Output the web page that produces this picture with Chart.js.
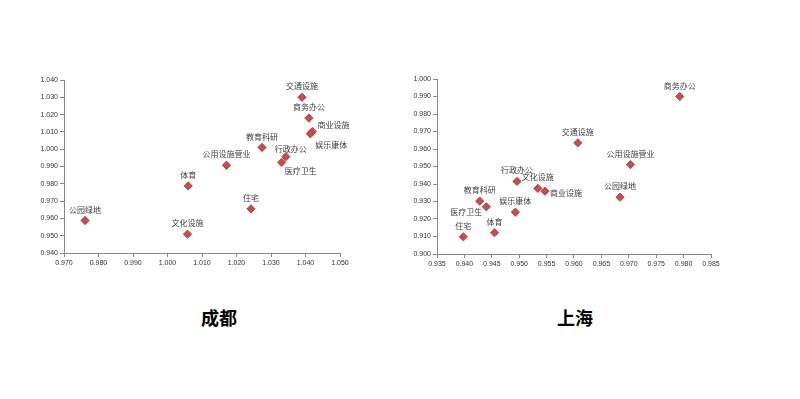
<!DOCTYPE html>
<html>
<head>
<meta charset="utf-8">
<script src="https://cdn.jsdelivr.net/npm/chart.js@4/dist/chart.umd.min.js"></script>
<style>
  html, body { margin: 0; padding: 0; background: #fff; }
  body { width: 800px; height: 399px; position: relative; overflow: hidden; }
  .box { position: absolute; top: 0; width: 400px; height: 300px; }
  .title { position: absolute; top: 304px; font: bold 18px "Noto Sans CJK SC", sans-serif; color: #000; }
</style>
</head>
<body>
<div class="box" style="left:0"><canvas id="cd"></canvas></div>
<div class="box" style="left:400px"><canvas id="sh"></canvas></div>
<div class="title" style="left:201px">成都</div>
<div class="title" style="left:557px">上海</div>
<script>
// 成都
const cdNames = ["交通设施", "商务办公", "商业设施", "娱乐康体", "教育科研", "行政办公",
  "医疗卫生", "公用设施营业", "体育", "住宅", "公园绿地", "文化设施"];
const cdX = [1.039, 1.041, 1.042, 1.0414, 1.0274, 1.0343, 1.0331, 1.0171, 1.006, 1.0242, 0.9761, 1.0058];
const cdY = [1.030, 1.018, 1.0102, 1.0089, 1.001, 0.9957, 0.9924, 0.9907, 0.9788, 0.9655, 0.9588, 0.9509];

// 上海
const shNames = ["商务办公", "交通设施", "公用设施营业", "公园绿地", "行政办公", "文化设施",
  "商业设施", "教育科研", "医疗卫生", "娱乐康体", "体育", "住宅"];
const shX = [0.9793, 0.9607, 0.9703, 0.9684, 0.9496, 0.9534, 0.9547, 0.9428, 0.944, 0.9493, 0.9455, 0.9398];
const shY = [0.990, 0.9635, 0.9511, 0.9325, 0.9415, 0.9375, 0.9359, 0.9302, 0.927, 0.9239, 0.9122, 0.9098];

// label offsets (px) from each point
const cdOffsets = [[0,-11],[0,-11],[21,-7],[21,11],[0,-11],[5,-8],[19,9],[0,-11],[0,-11],[0,-11],[0,-11],[0,-11]];
const shOffsets = [[0,-11],[0,-11],[0,-11],[0,-11],[0,-11],[0,-11],[21,2],[0,-11],[-20,5],[0,-11],[0,-11],[0,-11]];

const pointLabels = {
  id: "pointLabels",
  afterDatasetsDraw(chart, args, opts) {
    const ctx = chart.ctx;
    const meta = chart.getDatasetMeta(0);
    ctx.save();
    ctx.font = "8px 'Noto Sans CJK SC', sans-serif";
    ctx.fillStyle = "#404040";
    ctx.textAlign = "center";
    ctx.textBaseline = "middle";
    meta.data.forEach((p, i) => {
      const o = opts.offsets[i];
      ctx.fillText(opts.names[i], p.x + o[0], p.y + o[1]);
    });
    ctx.restore();
  }
};

function makeChart(id, names, xs, ys, offsets, xr, yr, pad) {
  new Chart(document.getElementById(id), {
    type: "scatter",
    data: {
      datasets: [{
        data: xs.map((x, i) => ({ x: x, y: ys[i] })),
        pointStyle: "rectRot",
        pointRadius: 4.2,
        pointHoverRadius: 4.2,
        backgroundColor: "#C0504D",
        borderColor: "#A83B38",
        borderWidth: 0.8
      }]
    },
    options: {
      responsive: false,
      animation: false,
      devicePixelRatio: 1,
      layout: { padding: pad },
      plugins: {
        legend: { display: false },
        tooltip: { enabled: false },
        pointLabels: { names: names, offsets: offsets }
      },
      scales: {
        x: {
          type: "linear",
          min: xr[0], max: xr[1],
          afterFit: (s) => { s.height = 20; },
          grid: { drawOnChartArea: false, tickLength: 4, color: "#888" },
          border: { color: "#888" },
          ticks: {
            stepSize: xr[2], padding: 2, color: "#333",
            font: { family: "'Liberation Sans', Arial, sans-serif", size: 7 },
            callback: (v) => v.toFixed(3)
          }
        },
        y: {
          type: "linear",
          min: yr[0], max: yr[1],
          afterFit: (s) => { s.width = 30; },
          grid: { drawOnChartArea: false, tickLength: 4, color: "#888" },
          border: { color: "#888" },
          ticks: {
            stepSize: yr[2], padding: 2, color: "#333",
            font: { family: "'Liberation Sans', Arial, sans-serif", size: 7 },
            callback: (v) => v.toFixed(3)
          }
        }
      }
    },
    plugins: [pointLabels]
  });
}

for (const c of ["cd", "sh"]) {
  const el = document.getElementById(c);
  el.width = 400; el.height = 300;
}

makeChart("cd", cdNames, cdX, cdY, cdOffsets, [0.970, 1.050, 0.010], [0.940, 1.040, 0.010],
  { left: 34, right: 60, top: 80, bottom: 27 });
makeChart("sh", shNames, shX, shY, shOffsets, [0.935, 0.985, 0.005], [0.900, 1.000, 0.010],
  { left: 7, right: 89, top: 79, bottom: 26 });
</script>
</body>
</html>
